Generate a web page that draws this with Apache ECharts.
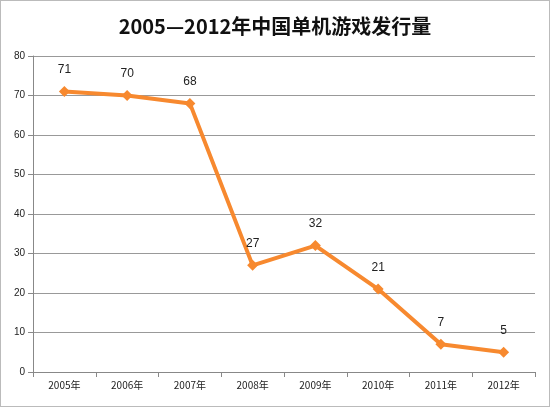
<!DOCTYPE html>
<html>
<head>
<meta charset="utf-8">
<script src="https://cdn.jsdelivr.net/npm/echarts@6/dist/echarts.min.js"></script>
<style>
  html, body { margin: 0; padding: 0; background: #fff; }
  #chart { width: 550px; height: 407px; border: 1px solid #bbb; box-sizing: border-box; }
</style>
</head>
<body>
<div id="chart"></div>
<script>
const years = ['2005年', '2006年', '2007年', '2008年', '2009年', '2010年', '2011年', '2012年'];
const games = [71, 70, 68, 27, 32, 21, 7, 5];

const chart = echarts.init(document.getElementById('chart'));
chart.setOption({
  animation: false,
  title: {
    text: '2005—2012年中国单机游戏发行量',
    left: 'center',
    top: 10,
    textStyle: { fontSize: 20, fontWeight: 'bold', color: '#111', fontFamily: 'Noto Sans CJK SC' }
  },
  grid: { left: 32, right: 14, top: 55, bottom: 34 },
  xAxis: {
    type: 'category',
    data: years,
    boundaryGap: true,
    axisLine: { lineStyle: { color: '#888' } },
    axisTick: { show: true, alignWithLabel: false, lineStyle: { color: '#888' } },
    axisLabel: { color: '#222', fontSize: 10, fontFamily: 'Noto Sans CJK SC' }
  },
  yAxis: {
    type: 'value',
    min: 0, max: 80, interval: 10,
    axisLine: { show: true, lineStyle: { color: '#888' } },
    axisTick: { show: true, lineStyle: { color: '#888' } },
    axisLabel: { color: '#222', fontSize: 10 },
    splitLine: { lineStyle: { color: '#999' } }
  },
  series: [{
    type: 'line',
    data: games,
    symbol: 'diamond',
    symbolSize: 11,
    lineStyle: { color: '#F7892F', width: 4 },
    itemStyle: { color: '#F7892F' },
    label: { show: true, position: 'top', distance: 10, color: '#222', fontSize: 12 }
  }]
});
</script>
</body>
</html>
